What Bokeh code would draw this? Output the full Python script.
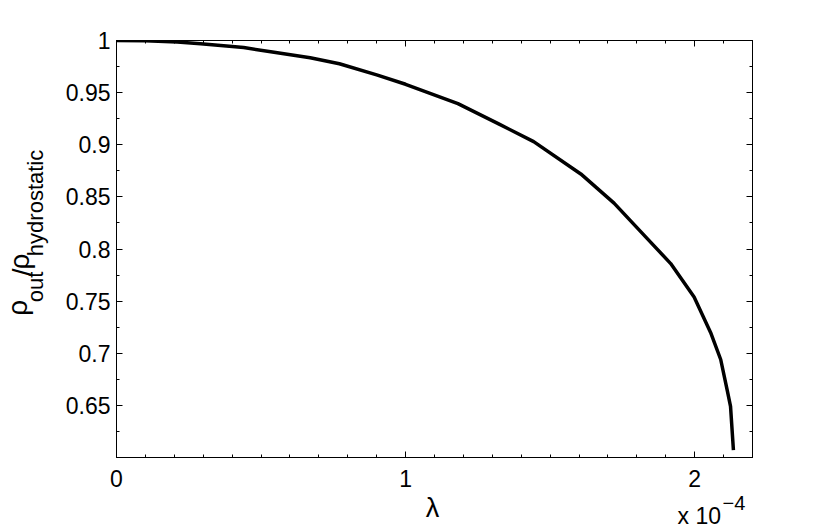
import math
from bokeh.plotting import figure
from bokeh.layouts import row, column
from bokeh.models import (Range1d, FixedTicker, LinearAxis, CustomJSTickFormatter)
from bokeh.core.properties import value
from bokeh.embed import file_html
from bokeh.resources import INLINE

# ---- data ----
lam = [0.0, 0.1e-4, 0.21e-4, 0.291e-4, 0.44e-4, 0.545e-4, 0.67e-4, 0.771e-4,
       0.90e-4, 1.0e-4, 1.181e-4, 1.322e-4, 1.443e-4, 1.606e-4, 1.721e-4,
       1.836e-4, 1.917e-4, 1.998e-4, 2.055e-4, 2.09e-4, 2.113e-4, 2.124e-4,
       2.134e-4]
ratio = [1.0, 0.9997, 0.9985, 0.9968, 0.9932, 0.9888, 0.9835, 0.9777,
         0.967, 0.958, 0.9394, 0.920, 0.903, 0.872, 0.844,
         0.810, 0.786, 0.754, 0.720, 0.694, 0.664, 0.649,
         0.607]

x_major_ticks = [0.0, 1e-4, 2e-4]
x_minor_ticks = [i * 1e-5 for i in range(0, 23)]
y_major_ticks = [0.65, 0.7, 0.75, 0.8, 0.85, 0.9, 0.95, 1.0]
y_minor_ticks = [0.6 + i * 0.025 for i in range(0, 17)]

# label pieces: y label (rotated) and x label / exponent
ylabel_parts = ["ρ", "out", "/", "ρ", "hydrostatic"]
ylabel_sizes = [28, 22, 28, 28, 22]
ylabel_base = [28, 44, 33, 30, 44]        # baseline (px from left of page)
ylabel_start = [328, 312, 281, 273, 257]  # start (px from top of page)

FONT = "Liberation Sans"
LEFT_W = 60
MAIN_H = 497
TOTAL_W, TOTAL_H = 830, 530
STRIP_TOP = 470                # bottom strip overlaps the main plot's lower border
BASE_SHIFT = 0.4               # empirical baseline correction of the svg text, in em

# ---------------- main plot ----------------
p = figure(width=TOTAL_W - LEFT_W, height=MAIN_H,
           x_range=Range1d(0, 2.2e-4), y_range=Range1d(0.6, 1.0),
           output_backend="svg", toolbar_location=None,
           min_border_left=116 - LEFT_W, min_border_top=40,
           min_border_right=78, min_border_bottom=MAIN_H - 457)
p.grid.visible = False
p.outline_line_color = "black"
p.outline_line_width = 1
p.background_fill_color = "white"
p.border_fill_color = "white"

xt = FixedTicker(ticks=x_major_ticks, minor_ticks=x_minor_ticks)
yt = FixedTicker(ticks=y_major_ticks, minor_ticks=y_minor_ticks)
xfmt = CustomJSTickFormatter(code="return (tick*1e4).toFixed(0);")
yfmt = CustomJSTickFormatter(code="return String(parseFloat(tick.toFixed(3)));")
blank = CustomJSTickFormatter(code="return '';")


def style(ax, labels=True):
    ax.axis_line_color = "black"
    ax.axis_line_width = 1
    ax.major_tick_in = 6
    ax.major_tick_out = 0
    ax.minor_tick_in = 3
    ax.minor_tick_out = 0
    ax.major_tick_line_color = "black"
    ax.minor_tick_line_color = "black"
    ax.major_label_text_font = FONT
    ax.major_label_text_color = "black"
    ax.major_label_text_font_size = "23px" if labels else "0px"


xa = p.xaxis[0]
xa.ticker = xt
xa.formatter = xfmt
style(xa)
xa.major_label_standoff = 12

ya = p.yaxis[0]
ya.ticker = yt
ya.formatter = yfmt
style(ya)
ya.major_label_standoff = 6

top = LinearAxis(ticker=xt, formatter=blank)
style(top, labels=False)
p.add_layout(top, "above")
right = LinearAxis(ticker=yt, formatter=blank)
style(right, labels=False)
p.add_layout(right, "right")

p.line(lam, ratio, line_color="black", line_width=3.5, line_join="round")

# ---------------- left strip: y label ----------------
left = figure(width=LEFT_W, height=MAIN_H,
              x_range=Range1d(0, LEFT_W), y_range=Range1d(MAIN_H, 0),
              x_axis_type=None, y_axis_type=None,
              output_backend="svg", toolbar_location=None,
              min_border=0)
left.outline_line_color = None
left.grid.visible = False
for t, s, b, st in zip(ylabel_parts, ylabel_sizes, ylabel_base, ylabel_start):
    left.text(x=[b - BASE_SHIFT * s], y=[st], text=[t], angle=math.pi / 2,
              text_font=value(FONT), text_font_size=f"{s}px", text_color="black",
              text_align="left", text_baseline="alphabetic")

# ---------------- bottom strip: x label and exponent ----------------
bottom = figure(width=TOTAL_W, height=TOTAL_H - STRIP_TOP,
                x_range=Range1d(0, TOTAL_W), y_range=Range1d(TOTAL_H, STRIP_TOP),
                x_axis_type=None, y_axis_type=None,
                output_backend="svg", toolbar_location=None,
                min_border=0)
bottom.outline_line_color = None
bottom.grid.visible = False
bottom.background_fill_color = None
bottom.border_fill_color = None
bottom.margin = (STRIP_TOP - MAIN_H, 0, 0, 0)


def btext(t, x, y, s, align="left"):
    bottom.text(x=[x], y=[y - BASE_SHIFT * s], text=[t], text_font=value(FONT),
                text_font_size=f"{s}px", text_color="black",
                text_align=align, text_baseline="alphabetic")


btext("λ", 432, 518, 27, "center")
btext("x 10", 677, 525, 23)
btext("−4", 722, 510, 20)

layout = column(row(left, p, spacing=0), bottom, spacing=0)
open("out.html", "w").write(file_html(layout, INLINE))
